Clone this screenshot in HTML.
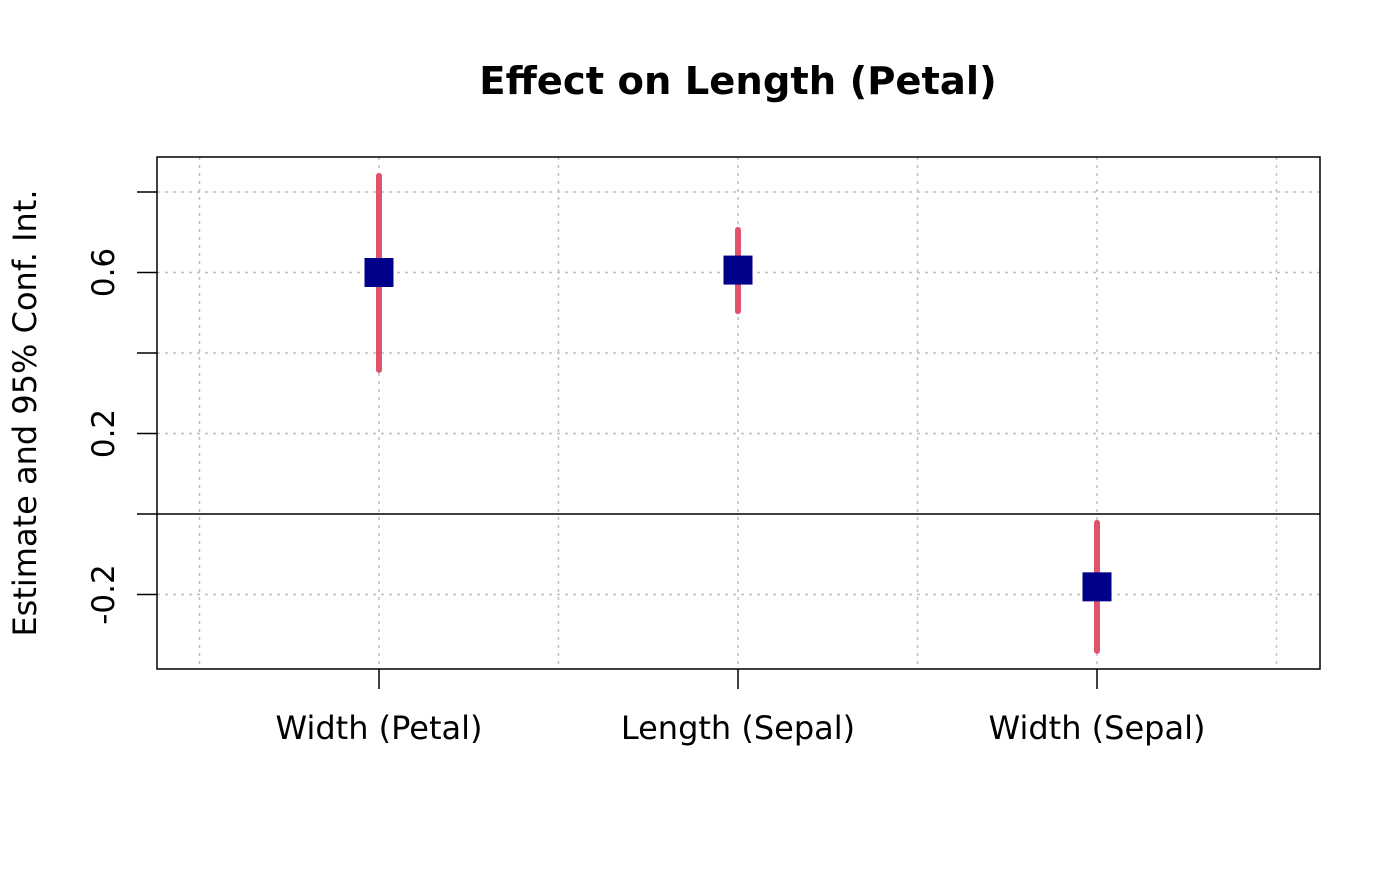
<!DOCTYPE html>
<html><head><meta charset="utf-8"><style>
html,body{margin:0;padding:0;background:#fff;}
svg text{font-family:"DejaVu Sans","Liberation Sans",sans-serif;fill:#000;}
</style></head><body>
<svg id="chart" width="1400" height="866" xmlns="http://www.w3.org/2000/svg">
<rect width="1400" height="866" fill="#fff"/>
<text x="738" y="94" text-anchor="middle" font-size="38.5" font-weight="bold">Effect on Length (Petal)</text>
<g id="grid"></g>
<g id="axes"></g>
<g id="marks"></g>
<text transform="translate(36,413) rotate(-90)" text-anchor="middle" font-size="32">Estimate and 95% Conf. Int.</text>
</svg>
<script>
const categories = ["Width (Petal)", "Length (Sepal)", "Width (Sepal)"];
const estimates = [0.600, 0.606, -0.181];
const lowers = [0.358, 0.504, -0.340];
const uppers = [0.840, 0.706, -0.022];
const yTicks = [-0.2, 0, 0.2, 0.4, 0.6, 0.8];
const yTickLabels = ["-0.2", "", "0.2", "", "0.6", ""];

const L=157,R=1320,T=157,B=669;
const NS="http://www.w3.org/2000/svg";
function y(v){return 514 - v*402.5;}
function x(i){return 379 + i*359;}
function mk(tag,attrs,parent){const e=document.createElementNS(NS,tag);for(const k in attrs)e.setAttribute(k,attrs[k]);parent.appendChild(e);return e;}
const grid=document.getElementById('grid'),axes=document.getElementById('axes'),marks=document.getElementById('marks');
const dash={stroke:"#BEBEBE","stroke-width":1.5,"stroke-dasharray":"3,5"};
yTicks.forEach((t,k)=>{
  if(t!==0){const g=mk('line',Object.assign({x1:L,x2:R,y1:y(t),y2:y(t)},dash),grid);
  
  }
  const tk=mk('line',{x1:137,x2:L,y1:y(t),y2:y(t),stroke:"#000","stroke-width":1.5},axes);
  
  
  if(yTickLabels[k]){const tx=mk('text',{transform:`translate(114,${y(t)}) rotate(-90)`,"text-anchor":"middle","font-size":"31"},axes);
  tx.textContent=yTickLabels[k];
  
  }
});
for(let h=-0.5;h<=categories.length-0.5+0.01;h+=0.5){
  const g=mk('line',Object.assign({x1:x(h),x2:x(h),y1:T,y2:B},dash),grid);
  
  
}
const zl=mk('line',{x1:L,x2:R,y1:y(0),y2:y(0),stroke:"#000","stroke-width":1.5},axes);


const box=mk('rect',{x:L,y:T,width:R-L,height:B-T,fill:"none",stroke:"#000","stroke-width":1.5},axes);


categories.forEach((c,i)=>{
  const tk=mk('line',{x1:x(i),x2:x(i),y1:B,y2:689,stroke:"#000","stroke-width":1.5},axes);
  
  
  const tx=mk('text',{x:x(i),y:739,"text-anchor":"middle","font-size":"32"},axes);
  tx.textContent=c;
  
  
  const ci=mk('line',{x1:x(i),x2:x(i),y1:y(uppers[i]),y2:y(lowers[i]),stroke:"#DF536B","stroke-width":6,"stroke-linecap":"round"},marks);
  
  
  const sq=mk('rect',{x:x(i)-14.5,y:y(estimates[i])-14.5,width:29,height:29,fill:"#00008B"},marks);
  
  
});
</script>
</body></html>
